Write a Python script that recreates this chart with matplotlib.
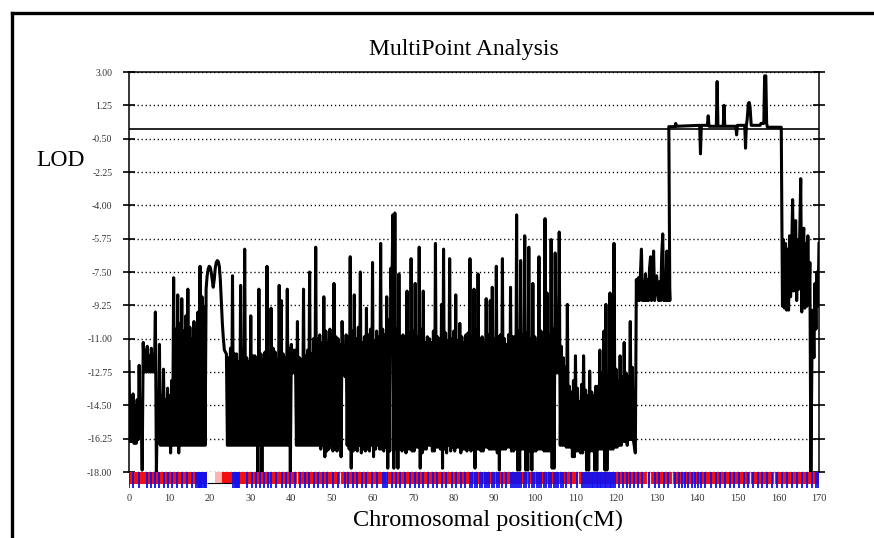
import numpy as np
import matplotlib.pyplot as plt
from matplotlib.lines import Line2D

plt.rcParams['font.family'] = ['Liberation Serif', 'DejaVu Serif']

# LOD trace.
# Dense parts: one (top, bottom) pair per 0.5 cM column of the trace.
noise1_start = 0.0
noise1_cells = [(-12.2, -16.4), (-14.0, -16.4), (-13.9, -16.5), (-14.5, -16.5), (-14.2, -16.3),
                (-12.4, -16.0), (-14.5, -17.9), (-11.2, -12.75), (-11.6, -12.75), (-11.4, -12.75),
                (-11.9, -12.75), (-11.5, -12.75), (-12.0, -12.75), (-9.6, -18.0), (-14.5, -16.5),
                (-11.3, -16.6), (-14.0, -16.6), (-12.6, -16.6), (-14.2, -16.6), (-13.6, -16.6),
                (-14.0, -17.0), (-13.2, -16.6), (-7.8, -16.6), (-10.5, -16.6), (-8.7, -17.0),
                (-10.2, -16.6), (-8.9, -16.6), (-10.6, -16.6), (-9.8, -16.6), (-8.4, -16.6),
                (-10.4, -16.6), (-11.0, -16.6), (-10.1, -16.6), (-10.6, -16.6), (-9.6, -16.6),
                (-7.2, -16.6), (-8.8, -16.6), (-9.3, -16.6)]

arch_start, arch_step = 19.0, 0.25
arch_lod = [-8.4, -7.7, -7.35, -7.2, -7.25, -7.5, -7.9, -8.3, -7.9, -7.3,
            -7.0, -6.9, -6.95, -7.2, -7.9, -9.0, -10.2, -11.0, -11.6]

noise2_start = 24.0
noise2_cells = [
    (-11.8, -16.6), (-12.0, -16.6), (-11.5, -16.6), (-7.7, -16.6), (-11.8, -16.6),
    (-11.8, -16.6), (-12.2, -16.6), (-8.2, -16.6), (-11.6, -16.6), (-6.3, -16.6),
    (-12.0, -16.6), (-12.2, -16.6), (-9.8, -16.6), (-11.9, -16.6), (-11.9, -16.6),
    (-12.0, -18.0), (-8.4, -16.6), (-11.8, -18.0), (-12.1, -16.6), (-11.7, -16.6),
    (-7.2, -16.6), (-12.0, -16.6), (-9.4, -16.6), (-11.5, -16.6), (-11.7, -16.6),
    (-12.1, -16.6), (-8.2, -16.6), (-9.0, -16.6), (-11.8, -16.6), (-12.0, -16.6),
    (-8.4, -16.6), (-11.5, -18.0), (-11.3, -12.8), (-11.6, -12.8), (-11.6, -16.6),
    (-10.1, -16.6), (-12.0, -16.6), (-12.1, -16.6), (-8.4, -16.6), (-11.9, -16.6),
    (-11.6, -16.6), (-7.5, -16.6), (-11.8, -16.6), (-11.0, -16.6), (-6.2, -16.6),
    (-11.0, -16.6), (-10.8, -16.8), (-11.2, -16.6), (-8.8, -17.2), (-10.6, -16.9),
    (-11.2, -16.8), (-10.5, -16.6), (-10.8, -16.9), (-8.1, -16.8), (-10.9, -16.9),
    (-11.0, -16.6), (-11.3, -17.2), (-10.1, -12.8), (-11.6, -13.0), (-10.8, -16.6),
    (-10.9, -16.8), (-6.7, -17.8), (-10.6, -16.9), (-8.7, -16.8), (-11.0, -16.9),
    (-10.4, -16.6), (-7.5, -17.0), (-11.2, -16.8), (-10.9, -16.9), (-9.4, -16.8),
    (-10.8, -16.9), (-10.5, -16.6), (-7.0, -17.2), (-11.1, -16.8), (-10.6, -16.6),
    (-10.9, -16.8), (-6.0, -16.8), (-10.5, -16.9), (-10.8, -16.7), (-8.8, -17.8),
    (-10.0, -16.9), (-7.3, -9.0), (-4.5, -17.8), (-4.4, -16.8), (-10.5, -17.8),
    (-7.6, -16.8), (-10.9, -16.9), (-10.8, -16.6), (-11.0, -17.0), (-8.5, -16.8),
    (-10.7, -16.8), (-6.8, -16.9), (-10.6, -16.9), (-8.1, -16.7), (-10.9, -16.7),
    (-6.2, -17.8), (-10.5, -17.0), (-8.5, -16.8), (-11.2, -16.8), (-10.9, -16.6),
    (-11.0, -16.6), (-11.2, -16.9), (-10.6, -16.9), (-6.0, -16.7), (-10.9, -16.7),
    (-11.0, -16.8), (-9.2, -17.8), (-6.3, -16.8), (-10.7, -17.0), (-11.1, -16.6),
    (-6.8, -16.9), (-11.0, -16.7), (-10.6, -16.9), (-8.7, -16.7), (-11.1, -16.7),
    (-10.2, -17.0), (-10.9, -16.8), (-11.2, -16.8), (-10.8, -16.9), (-10.7, -16.7),
    (-6.8, -16.9), (-10.9, -16.8), (-8.4, -17.8), (-10.6, -16.8), (-7.6, -16.8),
    (-11.0, -16.9), (-10.9, -16.9), (-11.2, -16.7), (-8.9, -16.7), (-10.8, -16.8),
    (-9.0, -16.8), (-8.3, -16.8), (-11.0, -16.8), (-7.2, -17.0), (-10.9, -17.9),
    (-10.8, -16.8), (-6.8, -16.8), (-11.0, -16.8), (-11.3, -16.7), (-10.8, -16.7),
    (-8.3, -16.9), (-10.9, -16.9), (-10.9, -16.8), (-4.5, -17.9), (-10.6, -17.9),
    (-6.9, -16.8), (-10.8, -16.8), (-5.6, -17.9), (-10.7, -17.9), (-6.2, -16.9),
    (-11.0, -17.9), (-8.1, -16.9), (-10.9, -16.9), (-11.2, -16.8), (-6.7, -16.8),
    (-10.6, -16.8), (-11.0, -16.9), (-4.7, -16.9), (-8.6, -16.9), (-10.8, -16.9),
    (-5.8, -17.8), (-10.5, -17.8), (-6.5, -12.8), (-10.2, -12.8), (-5.4, -16.6),
    (-11.4, -16.6), (-12.0, -16.6), (-12.5, -16.7), (-9.2, -16.7), (-13.5, -16.7),
    (-13.8, -17.2), (-13.2, -17.2), (-11.9, -16.9), (-13.6, -16.9), (-14.3, -17.0),
    (-13.4, -17.0), (-11.9, -16.8), (-13.7, -17.9), (-14.0, -17.9), (-12.7, -16.9),
    (-13.8, -16.9), (-14.0, -17.9), (-13.5, -17.9), (-13.5, -16.8), (-11.6, -16.8),
    (-12.8, -16.8), (-10.6, -17.9), (-9.2, -17.9), (-13.0, -16.8), (-8.6, -16.8),
    (-12.6, -16.8), (-6.0, -16.7), (-12.6, -16.7), (-13.2, -16.6), (-11.9, -16.6),
    (-13.0, -16.4), (-11.2, -16.4), (-12.8, -16.6), (-13.0, -16.3), (-10.1, -16.3),
    (-12.5, -16.3)]

step_start, step_step = 124.75, 0.25
step_lod = [-17.0, -7.9, -9.0, -7.8, -9.0, -7.7, -6.3, -9.0, -8.0, -9.0,
            -7.6, -9.0, -7.9, -9.0, -7.3, -6.7, -9.0, -7.6, -6.4, -9.0,
            -7.8, -7.7, -8.6, -9.0, -8.0, -9.0, -6.6, -5.5, -9.0, -7.9,
            -9.0, -6.4, -9.0, -7.2, -9.0]

plateau_cm = [133.0, 134.5, 134.7, 134.9, 140.6, 140.8, 141.0, 142.5, 142.7, 142.9,
              144.7, 144.9, 145.1, 146.4, 146.6, 146.8, 149.5, 149.7, 149.9, 151.7,
              151.9, 152.1, 152.3, 152.6, 152.8, 153.0, 153.3, 155.5, 155.7, 156.4,
              156.6, 156.9, 157.1, 157.3, 160.7]
plateau_lod = [0.13, 0.13, 0.3, 0.15, 0.2, -1.3, 0.2, 0.2, 0.7, 0.15,
               0.15, 2.5, 0.15, 0.15, 1.25, 0.15, 0.15, -0.3, 0.2, 0.2,
               -1.0, 0.2, 0.5, 1.35, 1.4, 1.2, 0.2, 0.2, 0.3, 0.3,
               2.8, 2.8, 0.3, 0.1, 0.1]

tail_start, tail_step = 161.0, 0.25
tail_lod = [-9.3, -5.8, -9.4, -6.0, -9.5, -6.3, -9.5, -5.6, -8.8, -6.5,
            -3.7, -8.5, -6.1, -4.8, -9.0, -5.8, -8.4, -5.4, -2.6, -9.6,
            -5.9, -5.2, -9.4, -6.0, -9.3, -5.6, -9.2, -7.0, -18.0, -12.2,
            -9.5, -12.0, -8.1, -10.5, -7.5, -9.3, -6.0]

# marker map under the axis
markers_cm = [0.1, 1.1, 2.5, 4.4, 5.3, 6.4, 7.5, 8.5, 9.7, 10.5, 11.9, 13.0, 14.4, 15.5,
              16.6, 16.9, 17.2, 17.5, 17.8, 18.1, 18.4, 18.7, 19.0,
              25.7, 26.0, 26.3, 26.6, 26.9, 27.2, 29.0, 30.2, 31.3, 32.3, 33.3, 34.3,
              35.1, 36.2, 37.6, 38.7, 39.7, 40.9, 42.1, 43.3, 44.4, 45.6, 46.6, 47.7,
              48.9, 50.3, 51.6, 53.2, 54.0, 55.3, 56.2, 57.3, 58.5, 59.8, 61.0, 62.5,
              63.1, 63.6, 64.7, 65.8, 66.7, 68.0, 69.2, 70.4, 71.5, 72.5, 73.7, 75.0,
              75.9, 77.0, 78.2, 79.5, 80.5, 81.7, 82.8, 84.0, 84.6, 85.2, 85.8, 86.4,
              87.0, 87.6, 88.2, 88.8, 89.4, 90.0, 90.6, 91.2, 91.8, 93.0, 94.2, 94.7,
              95.2, 95.7, 96.2, 96.7, 97.2, 97.8, 98.6, 99.2, 99.8, 100.4, 101.0,
              101.6, 102.2, 102.8, 103.4, 104.0, 104.6, 105.2, 105.8, 106.4, 107.0,
              107.6, 109.0, 110.3, 111.5, 112.0, 112.5, 113.0, 113.5, 114.0, 114.4,
              114.8, 115.2, 115.6, 116.0, 116.4, 116.8, 117.2, 117.6, 118.0, 118.4,
              118.8, 119.3, 119.8, 120.8, 121.8, 122.6, 123.5, 124.4, 125.5, 126.5,
              128.0, 129.5, 130.5, 131.8, 132.8, 134.5, 135.5, 136.3, 137.0, 137.8,
              138.6, 139.4, 140.2, 141.0, 142.0, 143.3, 144.5, 145.5, 146.8, 148.0,
              149.0, 150.2, 151.4, 152.5, 153.8, 155.0, 156.0, 157.2, 158.5, 159.7,
              160.8, 162.0, 163.3, 164.5, 165.8, 167.0, 168.2, 169.3, 169.7]
gap_cm = [41.3, 52.0, 63.4, 98.4, 102.5, 110.6, 127.6, 128.3, 133.7, 153.0, 158.2, 158.8]
white_span = (19.1, 21.2)
pink_span = (21.2, 22.8)

yticks = [3.0, 1.25, -0.5, -2.25, -4.0, -5.75, -7.5, -9.25, -11.0, -12.75,
          -14.5, -16.25, -18.0]
ytick_labels = ['3.00', '1.25', '-0.50', '-2.25', '-4.00', '-5.75', '-7.50', '-9.25',
                '-11.00', '-12.75', '-14.50', '-16.25', '-18.00']
xticks = list(range(0, 171, 10))


# a (top, bottom) column list becomes a zigzag at quarter-cM spacing
def zigzag(start, cells):
    ys = np.array(cells).ravel()
    xs = start + 0.25 * np.arange(len(ys))
    return xs, ys


pieces = [zigzag(noise1_start, noise1_cells),
          (arch_start + arch_step * np.arange(len(arch_lod)), np.array(arch_lod)),
          zigzag(noise2_start, noise2_cells),
          (step_start + step_step * np.arange(len(step_lod)), np.array(step_lod)),
          (np.array(plateau_cm), np.array(plateau_lod)),
          (tail_start + tail_step * np.arange(len(tail_lod)), np.array(tail_lod))]
pos = np.concatenate([p[0] for p in pieces])
lod = np.concatenate([p[1] for p in pieces])

W, H = 874, 538
fig = plt.figure(figsize=(W / 100, H / 100), dpi=100)

# outer frame (runs off the right and bottom edges)
fig.add_artist(Line2D([12 / W, 1.0], [1 - 13 / H, 1 - 13 / H], transform=fig.transFigure,
                      color='black', lw=2.4))
fig.add_artist(Line2D([12 / W, 12 / W], [1 - 13 / H, 0.0], transform=fig.transFigure,
                      color='black', lw=2.4))

ax = fig.add_axes([129 / W, 1 - 472 / H, 690 / W, 400 / H])
ax.plot(pos, lod, color='black', lw=2.2)
ax.axhline(0, color='black', lw=1.2)
ax.set_xlim(0, 170)
ax.set_ylim(-18, 3)
ax.set_yticks(yticks)
ax.set_yticklabels(ytick_labels, fontsize=7)
ax.set_xticks([])
ax.grid(axis='y', color='black', lw=1.0, linestyle=(0, (0.9, 2.0)))
ax.tick_params(axis='y', direction='inout', length=8, width=1.2, right=True, pad=8,
               labelcolor='#333333')
ax.spines['bottom'].set_visible(False)
for s in ['top', 'left', 'right']:
    ax.spines[s].set_linewidth(1.1)

# marker bar
bar = fig.add_axes([129 / W, 1 - 488 / H, 690 / W, 16 / H])
bar.set_xlim(0, 170)
bar.set_ylim(0, 1)
bar.axhspan(0.28, 1.0, color='#f01010', lw=0)
bar.axvspan(white_span[0], white_span[1], 0.28, 1.0, color='white', lw=0)
bar.axvspan(pink_span[0], pink_span[1], 0.28, 1.0, color='#ffb4b4', lw=0)
bar.vlines(gap_cm, 0.28, 1.0, color='#ffd0d0', lw=0.8)
bar.hlines(0.3, white_span[0], 25.6, color='black', lw=0.8)
bar.vlines(markers_cm, 0.0, 1.0, color='#1010f0', lw=1.3)
for s in bar.spines.values():
    s.set_visible(False)
bar.set_yticks([])
bar.set_xticks(xticks)
bar.set_xticklabels([str(v) for v in xticks], fontsize=7.5)
bar.tick_params(axis='x', length=0, pad=4, labelcolor='#333333')

fig.text(464 / W, 1 - 55 / H, 'MultiPoint Analysis', fontsize=17, ha='center',
         va='baseline')
fig.text(61 / W, 1 - 160 / H, 'LOD', fontsize=17, ha='center', va='center')
fig.text(488 / W, 1 - 520 / H, 'Chromosomal position(cM)', fontsize=17.5, ha='center',
         va='center')

fig.savefig('out.png', dpi=100)
